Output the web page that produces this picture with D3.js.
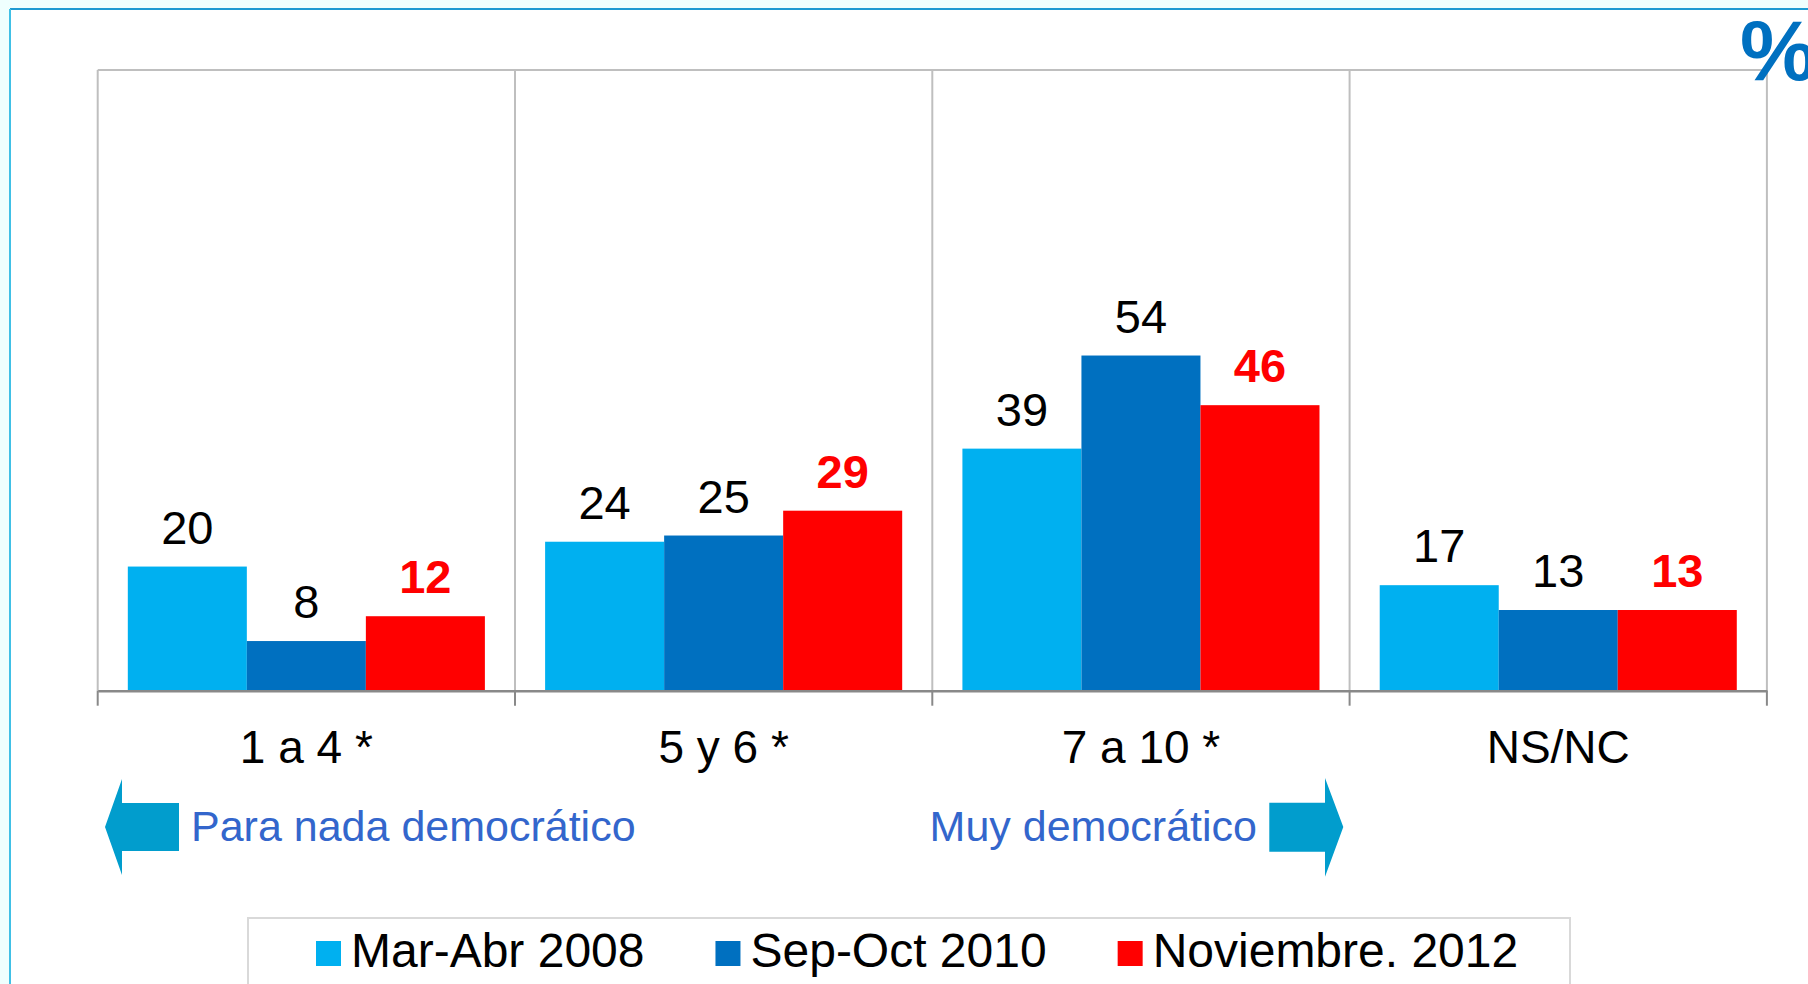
<!DOCTYPE html>
<html>
<head>
<meta charset="utf-8">
<script src="https://cdn.jsdelivr.net/npm/d3@7"></script>
<style>
  body { margin: 0; background: #effffe; overflow: hidden; }
  text { font-family: "Liberation Sans", Arial, sans-serif; }
</style>
</head>
<body>
<script>
// data
var categories = ["1 a 4 *", "5 y 6 *", "7 a 10 *", "NS/NC"];
var seriesNames = ["Mar-Abr 2008", "Sep-Oct 2010", "Noviembre. 2012"];
var values2008 = [20, 24, 39, 17];
var values2010 = [8, 25, 54, 13];
var values2012 = [12, 29, 46, 13];
var seriesColors = ["#00b0f0", "#0070c0", "#ff0000"];

var W = 1808, H = 984;
var plot = {left: 97.7, right: 1766.9, top: 70, bottom: 690.7};

var allValues = [values2008, values2010, values2012];

var svg = d3.select("body")
  .append("svg")
  .attr("width", W)
  .attr("height", H);

// white frame
svg.append("rect")
  .attr("x", 10).attr("y", 9)
  .attr("width", W).attr("height", H)
  .attr("fill", "#ffffff");
svg.append("line")
  .attr("x1", 10).attr("x2", W).attr("y1", 9).attr("y2", 9)
  .attr("stroke", "#1e9ad2").attr("stroke-width", 2);
svg.append("line")
  .attr("x1", 10).attr("x2", 10).attr("y1", 9).attr("y2", H)
  .attr("stroke", "#40c0e6").attr("stroke-width", 2);

var x0 = d3.scaleBand()
  .domain(categories)
  .range([plot.left, plot.right])
  .padding(0);

var x1 = d3.scaleBand()
  .domain(seriesNames)
  .range([0, x0.bandwidth()])
  .paddingInner(0)
  .paddingOuter(0.253);

var y = d3.scaleLinear()
  .domain([0, 100])
  .range([plot.bottom, plot.top]);

// plot box + vertical grid lines
var grid = svg.append("g");
grid.append("line")
  .attr("x1", plot.left).attr("x2", plot.right)
  .attr("y1", y(100)).attr("y2", y(100))
  .attr("stroke", "#bfbfbf").attr("stroke-width", 2);
var bounds = categories.map(function(c) { return x0(c); }).concat([plot.right]);
grid.selectAll("line.v")
  .data(bounds)
  .enter()
  .append("line")
  .attr("class", "v")
  .attr("x1", function(d) { return d; })
  .attr("x2", function(d) { return d; })
  .attr("y1", y(100))
  .attr("y2", y(0))
  .attr("stroke", "#bfbfbf")
  .attr("stroke-width", 2);

// bars
var rows = categories.map(function(c, i) {
  return seriesNames.map(function(s, j) {
    return {cat: c, series: s, idx: j, value: allValues[j][i]};
  });
});

var groups = svg.selectAll("g.cat")
  .data(rows)
  .enter()
  .append("g")
  .attr("class", "cat")
  .attr("transform", function(d, i) { return "translate(" + x0(categories[i]) + ",0)"; });

groups.selectAll("rect")
  .data(function(d) { return d; })
  .enter()
  .append("rect")
  .attr("x", function(d) { return x1(d.series); })
  .attr("y", function(d) { return y(d.value); })
  .attr("width", x1.bandwidth())
  .attr("height", function(d) { return y(0) - y(d.value); })
  .attr("fill", function(d) { return seriesColors[d.idx]; });

groups.selectAll("text")
  .data(function(d) { return d; })
  .enter()
  .append("text")
  .attr("x", function(d) { return x1(d.series) + x1.bandwidth() / 2; })
  .attr("y", function(d) { return y(d.value) - 23; })
  .attr("text-anchor", "middle")
  .attr("font-size", 47)
  .attr("font-weight", function(d) { return d.idx == 2 ? "bold" : "normal"; })
  .attr("fill", function(d) { return d.idx == 2 ? "#ff0000" : "#000000"; })
  .text(function(d) { return d.value; });

// x axis
var xAxis = svg.append("g")
  .attr("transform", "translate(0," + y(0) + ")")
  .call(d3.axisBottom(x0).tickSize(0).tickPadding(0));
xAxis.select(".domain").attr("stroke", "#898989").attr("stroke-width", 2.5);
xAxis.selectAll(".tick text")
  .attr("font-size", 46)
  .attr("fill", "#000")
  .attr("dy", null)
  .attr("y", 72)
  .attr("font-family", "Liberation Sans, Arial, sans-serif");
xAxis.selectAll("line.sep")
  .data(bounds)
  .enter()
  .append("line")
  .attr("class", "sep")
  .attr("x1", function(d) { return d; })
  .attr("x2", function(d) { return d; })
  .attr("y1", 0)
  .attr("y2", 15)
  .attr("stroke", "#898989")
  .attr("stroke-width", 2);

// arrows
var arrowColor = "#019dcd";
var textBlue = "#3366cc";
var ay = 827;
svg.append("path")
  .attr("d", "M105," + ay + " L122,779 L122,803 L179,803 L179,851 L122,851 L122,875 Z")
  .attr("fill", arrowColor);
svg.append("text")
  .attr("x", 191).attr("y", 841)
  .attr("font-size", 43)
  .attr("fill", textBlue)
  .text("Para nada democrático");

svg.append("path")
  .attr("d", "M1343.3," + ay + " L1325,778 L1325,802.7 L1269.3,802.7 L1269.3,851.7 L1325,851.7 L1325,876.7 Z")
  .attr("fill", arrowColor);
svg.append("text")
  .attr("x", 1257).attr("y", 841)
  .attr("text-anchor", "end")
  .attr("font-size", 43)
  .attr("fill", textBlue)
  .text("Muy democrático");

// percent sign
svg.append("text")
  .attr("x", 1740).attr("y", 80)
  .attr("font-size", 86)
  .attr("font-weight", "bold")
  .attr("fill", "#0070c0")
  .text("%");

// legend
svg.append("rect")
  .attr("x", 248).attr("y", 918)
  .attr("width", 1322).attr("height", 120)
  .attr("fill", "#fff")
  .attr("stroke", "#d9d9d9")
  .attr("stroke-width", 2);

var lx = 316;
seriesNames.forEach(function(name, i) {
  svg.append("rect")
    .attr("x", lx).attr("y", 941)
    .attr("width", 25).attr("height", 25)
    .attr("fill", seriesColors[i]);
  var t = svg.append("text")
    .attr("x", lx + 35).attr("y", 967)
    .attr("font-size", 48)
    .attr("fill", "#000")
    .text(name);
  lx = lx + 35 + t.node().getComputedTextLength() + 71;
});
</script>
</body>
</html>
